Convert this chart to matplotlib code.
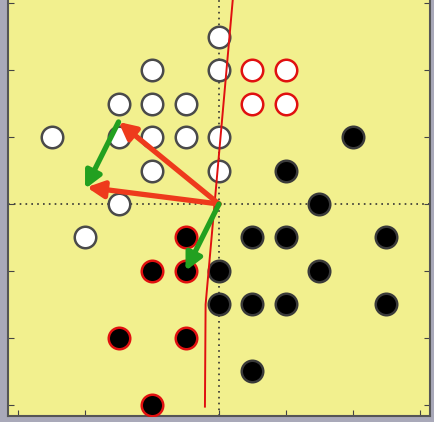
import matplotlib.pyplot as plt

# class A (white) and class B (black) points; *_bad are the misclassified ones (red edge)
white_x = [0, -2, 0, -3, -2, -1, -5, -3, -2, -1, 0, -2, 0, -3, -4]
white_y = [5, 4, 4, 3, 3, 3, 2, 2, 2, 2, 2, 1, 1, 0, -1]
white_bad_x = [1, 2, 1, 2]
white_bad_y = [4, 4, 3, 3]

black_x = [4, 2, 3, 1, 2, 5, 0, 3, 0, 1, 2, 5, 1]
black_y = [2, 1, 0, -1, -1, -1, -2, -2, -3, -3, -3, -3, -5]
black_bad_x = [-1, -2, -1, -3, -1, -2]
black_bad_y = [-1, -2, -2, -4, -4, -6]

# weight vectors and the update step
w_old = (-3.0, 2.45)
w_new = (-3.95, 0.5)
x_pt = (-1.0, -2.0)

# decision boundary ends
line_x = [-0.42, -0.40, 0.42]
line_y = [-6.05, -3.0, 6.2]

fig = plt.figure(figsize=(4.35, 4.22), dpi=100)
fig.patch.set_facecolor('#a9a9b9')
ax = fig.add_axes([8 / 435, 6 / 422, 422 / 435, 424 / 422])
ax.set_facecolor('#f2f08e')
ax.set_xlim(-6.3, 6.3)
ax.set_ylim(-6.33, 6.33)
ax.set_xticks([-6, -4, -2, 0, 2, 4, 6])
ax.set_yticks([-6, -4, -2, 0, 2, 4, 6])
ax.tick_params(direction='in', length=4, color='#444444', top=True, right=True,
               labelleft=False, labelbottom=False)
for s in ax.spines.values():
    s.set_color('#555555')
    s.set_linewidth(1.5)

ax.axhline(0, color='#333333', ls=(0, (1, 2.5)), lw=1.2, zorder=1)
ax.axvline(0, color='#333333', ls=(0, (1, 2.5)), lw=1.2, zorder=1)

ms = 240
ax.scatter(white_x, white_y, s=ms, c='white', edgecolors='#4a4a4a', linewidths=1.8, zorder=3)
ax.scatter(white_bad_x, white_bad_y, s=ms, c='white', edgecolors='#e01010', linewidths=1.8, zorder=3)
ax.scatter(black_x, black_y, s=ms, c='black', edgecolors='#3a3a3a', linewidths=1.8, zorder=3)
ax.scatter(black_bad_x, black_bad_y, s=ms, c='black', edgecolors='#e01010', linewidths=1.8, zorder=3)

ax.plot(line_x, line_y, color='#e01010', lw=1.4, zorder=4)

red = '#ee3a1c'
green = '#22a020'
aprops = dict(arrowstyle='-|>,head_length=1.0,head_width=0.5', lw=3.8, shrinkA=0, shrinkB=0)
ax.annotate('', xy=w_old, xytext=(0, 0), arrowprops=dict(color=red, **aprops), zorder=5)
ax.annotate('', xy=w_new, xytext=(0, 0), arrowprops=dict(color=red, **aprops), zorder=5)
ax.annotate('', xy=(w_old[0] + x_pt[0], w_old[1] + x_pt[1]), xytext=w_old,
            arrowprops=dict(color=green, **aprops), zorder=6)
ax.annotate('', xy=x_pt, xytext=(0, 0), arrowprops=dict(color=green, **aprops), zorder=6)

fig.savefig('out.png', dpi=100, facecolor=fig.get_facecolor())
